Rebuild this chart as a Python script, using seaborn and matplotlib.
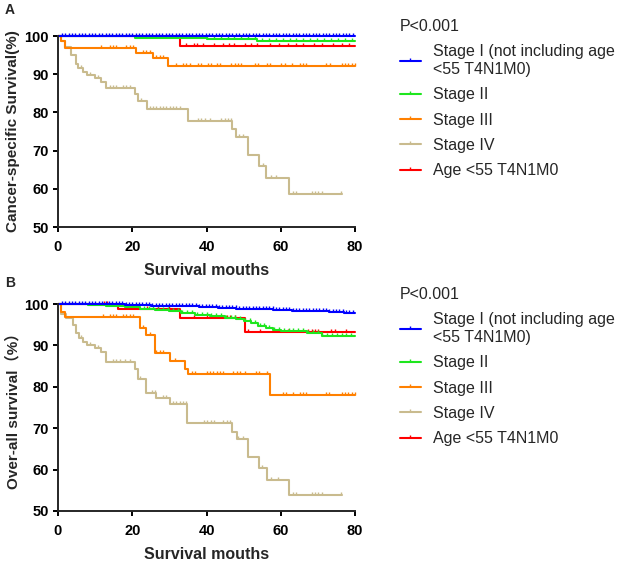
import numpy as np
import matplotlib
matplotlib.use("Agg")
import matplotlib.pyplot as plt
from matplotlib.path import Path
from matplotlib.lines import Line2D
import seaborn as sns

# groups, colours
labels = ["Stage I (not including age\n<55 T4N1M0)", "Stage II", "Stage III", "Stage IV", "Age <55 T4N1M0"]
colors = ["#0000ff", "#1ee61e", "#ff8000", "#c9bb8e", "#ff0000"]
p_text = "P<0.001"

# ---- A: cancer-specific survival (step times, survival %) ----
css_blue_t = [0]
css_blue_s = [100]
css_green_t = [0, 20.7, 40.0, 53.5]
css_green_s = [100, 99.6, 99.2, 98.7]
css_orange_t = [0, 0.9, 1.8, 21.1, 25.6, 29.7]
css_orange_s = [100, 98.6, 96.8, 95.6, 94.3, 92.1]
css_tan_t = [0, 0.9, 1.8, 3.6, 4.9, 5.5, 6.7, 7.9, 9.9, 11.7, 12.8, 20.7, 21.6, 23.9,
             35.0, 47.0, 47.9, 51.2, 54.1, 56.0, 62.2]
css_tan_s = [100, 98.6, 97.2, 95.0, 92.8, 91.6, 90.6, 89.8, 89.0, 88.0, 86.3, 84.8, 83.1, 81.0,
             77.8, 75.7, 73.5, 68.9, 66.0, 62.9, 58.7]
css_red_t = [0, 32.8]
css_red_s = [100, 97.5]
css_end = [80, 80, 80, 76.4, 80]

# ---- B: overall survival ----
os_blue_t = [0, 10, 18, 25, 32, 38, 43, 48, 53, 58, 63, 68, 73, 77]
os_blue_s = [100, 99.9, 99.8, 99.6, 99.5, 99.3, 99.1, 98.9, 98.7, 98.5, 98.3, 98.2, 98.0, 97.9]
os_green_t = [0, 3, 8, 13, 18, 22, 26, 30, 33, 37, 41, 45, 48, 50, 52, 54, 56, 58, 60, 67, 71]
os_green_s = [100, 99.9, 99.7, 99.4, 99.2, 98.9, 98.6, 98.2, 97.8, 97.4, 97.1, 96.7, 96.3,
              95.9, 95.3, 94.8, 94.3, 93.8, 93.5, 92.9, 92.3]
os_orange_t = [0, 0.9, 2.0, 22.0, 23.6, 26.1, 30.1, 34.1, 35.0, 57.1]
os_orange_s = [100, 98.0, 96.8, 94.1, 92.5, 88.1, 86.2, 84.4, 83.0, 78.0]
os_tan_t = [0, 0.9, 2.2, 4.0, 4.9, 5.6, 6.7, 7.9, 9.9, 11.7, 12.8, 20.7, 21.6, 23.8, 26.5,
            30.1, 34.8, 47.0, 48.1, 51.2, 54.2, 56.2, 62.3]
os_tan_s = [100, 97.7, 96.5, 94.9, 92.9, 91.7, 90.9, 90.1, 89.3, 88.5, 86.0, 84.4, 82.0, 78.4,
            77.2, 75.8, 71.3, 69.2, 67.3, 63.1, 60.4, 57.6, 53.8]
os_red_t = [0, 16.2, 32.8, 50.3]
os_red_s = [100, 98.7, 96.5, 93.2]
os_end = [80, 80, 80, 76.4, 80]

# ---- censoring marks (months) ----
blue_cens = [1.0, 2.0, 2.9, 3.8, 4.7, 5.6, 6.5, 7.4, 8.3, 9.2, 10.1, 11.0, 11.9, 12.8, 13.7,
             14.6, 15.5, 16.4, 17.3, 18.2, 19.1, 20.0, 20.9, 21.8, 22.7, 23.6, 24.5, 25.4,
             26.3, 27.2, 28.1, 29.0, 29.9, 30.8, 31.7, 32.6, 33.5, 34.4, 35.3, 36.2, 37.1,
             38.0, 38.9, 39.8, 40.7, 41.6, 42.5, 43.4, 44.3, 45.2, 46.1, 47.0, 47.9, 48.8,
             49.7, 50.6, 51.5, 52.4, 53.3, 54.2, 55.1, 56.0, 56.9, 57.8, 58.7, 59.6, 60.5,
             61.4, 62.3, 63.2, 64.1, 65.0, 65.9, 66.8, 67.7, 68.6, 69.5, 70.4, 71.3, 72.2,
             73.1, 74.0, 74.9, 75.8, 76.7, 77.6, 78.5, 79.4]
css_green_cens = [21.5, 23.4, 25.2, 27.1, 29.0, 30.8, 32.7, 34.5, 36.4, 38.2, 40.1, 42.0,
                  43.8, 45.7, 47.5, 49.4, 51.2, 53.1, 55.0, 56.8, 58.7, 60.5, 62.4, 64.2,
                  66.1, 68.0, 69.8, 71.7, 73.5, 75.4, 77.2, 79.1]
css_orange_cens = [11.7, 13.9, 14.8, 15.7, 18.4, 19.3, 20.2, 22.9, 23.8, 24.7, 26.5, 27.4,
                   28.3, 31.9, 33.7, 34.6, 35.5, 37.7, 38.6, 40.4, 41.3, 42.7, 43.6, 46.7,
                   47.6, 48.5, 49.4, 53.0, 53.9, 56.2, 57.1, 60.2, 61.1, 62.9, 65.1, 66.0,
                   66.9, 72.3, 73.2, 76.4, 77.3, 78.2, 79.1, 80.0]
css_tan_cens = [6.3, 8.5, 10.8, 13.9, 14.8, 15.7, 17.5, 18.4, 19.3, 22.4, 24.7, 25.6, 26.5,
                27.4, 28.3, 29.2, 30.1, 31.0, 31.9, 32.8, 37.7, 38.6, 39.5, 40.9, 44.0, 44.9,
                45.8, 46.5, 48.8, 49.9, 55.1, 57.3, 58.8, 63.3, 64.2, 68.3, 69.2, 70.1, 71.2,
                76.1]
css_red_cens = [34.5, 36.5, 37.5, 39.0, 42.0, 44.5, 46.0, 47.5, 50.5, 52.0, 53.5, 57.0, 59.5,
                62.0, 64.0, 66.0, 69.0, 71.0, 74.0, 76.5, 78.5]

os_green_cens = [14.0, 15.3, 16.6, 17.9, 19.2, 20.5, 21.8, 23.1, 24.4, 25.7, 27.0, 28.3, 29.6,
                 30.9, 32.2, 33.5, 34.8, 36.1, 37.4, 38.7, 40.0, 41.3, 42.6, 43.9, 45.2, 46.5,
                 47.8, 49.1, 50.4, 51.7, 53.0, 54.3, 55.6, 56.9, 58.2, 59.5, 60.8, 62.1, 63.4,
                 64.7, 66.0, 67.3, 68.6, 69.9, 71.2, 72.5, 73.8, 75.1, 76.4, 77.7, 79.0]
os_orange_cens = [12.1, 13.9, 14.8, 15.7, 17.5, 18.4, 19.3, 20.2, 22.9, 24.7, 26.5, 27.4,
                  28.3, 31.4, 36.1, 37.0, 40.0, 40.9, 41.8, 42.7, 43.6, 44.5, 47.2, 48.1,
                  49.0, 50.4, 53.3, 54.2, 56.3, 60.5, 61.4, 63.3, 65.1, 66.0, 66.9, 72.2,
                  73.1, 76.4, 77.3, 78.2, 79.1, 80.0]
os_tan_cens = [6.3, 8.5, 10.8, 14.8, 15.7, 16.6, 18.0, 19.3, 22.0, 25.2, 26.1, 28.3, 29.2,
               31.0, 31.9, 32.8, 33.7, 34.6, 39.3, 40.2, 41.1, 42.0, 44.5, 45.4, 46.3, 48.6,
               49.8, 55.0, 57.5, 59.3, 63.3, 64.2, 68.3, 69.2, 70.1, 71.2, 76.1]
os_red_cens = [12.3, 13.2, 19.0, 21.5, 24.0, 27.0, 30.0, 36.5, 40.0, 44.5, 45.4, 46.3, 47.6,
               51.2, 54.4, 62.0, 67.4, 68.3, 69.2, 70.1, 73.6, 74.5, 77.6]

sns.set_theme(style="ticks")
plt.rcParams["font.family"] = ["Liberation Sans", "Noto Sans CJK SC", "DejaVu Sans"]
plt.rcParams["axes.linewidth"] = 1.4
plt.rcParams["xtick.major.width"] = 1.4
plt.rcParams["ytick.major.width"] = 1.4
plt.rcParams["xtick.major.size"] = 3.6
plt.rcParams["ytick.major.size"] = 3.6

tick = Path([[0, 0], [0, 1]], [Path.MOVETO, Path.LINETO])


def draw_curve(ax, t, s, end, cens, color):
    x = list(t) + [end]
    y = list(s) + [s[-1]]
    sns.lineplot(x=x, y=y, ax=ax, color=color, lw=1.5, drawstyle="steps-post",
                 estimator=None, sort=False, legend=False, clip_on=False)
    idx = np.searchsorted(t, cens, side="right") - 1
    cy = np.array(s)[idx]
    ax.plot(cens, cy, ls="none", marker=tick, ms=5, mew=1.0, color=color, clip_on=False)


def style_axis(ax, ylabel):
    ax.set_xlim(0, 80)
    ax.set_ylim(50, 100)
    ax.set_xticks([0, 20, 40, 60, 80])
    ax.set_yticks([50, 60, 70, 80, 90, 100])
    ax.tick_params(labelsize=10.5, colors="black", pad=3)
    ax.tick_params(axis="x", pad=6)
    for lab in ax.get_xticklabels() + ax.get_yticklabels():
        lab.set_fontweight("bold")
    ax.set_xlabel("Survival mouths", fontsize=11.5, fontweight="bold", labelpad=6)
    ax.set_ylabel(ylabel, fontsize=11, fontweight="bold", labelpad=3)
    sns.despine(ax=ax)


def add_legend(ax, y_top):
    handles = [Line2D([], [], color=c, lw=1.5, marker=tick, ms=5, mew=1.0) for c in colors]
    leg = ax.legend(handles, labels, title=p_text, loc="upper left",
                    bbox_to_anchor=(400 / 625, y_top), bbox_transform=ax.figure.transFigure,
                    frameon=False, fontsize=11.5, title_fontsize=11.5, handlelength=1.3,
                    handletextpad=0.75, labelspacing=0.65, borderpad=0, borderaxespad=0,
                    alignment="left")
    return leg


fig = plt.figure(figsize=(6.25, 5.64), dpi=100)
ax1 = fig.add_axes([58 / 625, 337 / 564, 297 / 625, 191 / 564])
ax2 = fig.add_axes([58 / 625, 53 / 564, 297 / 625, 207 / 564])

css = [(css_blue_t, css_blue_s, blue_cens),
       (css_green_t, css_green_s, css_green_cens),
       (css_orange_t, css_orange_s, css_orange_cens),
       (css_tan_t, css_tan_s, css_tan_cens),
       (css_red_t, css_red_s, css_red_cens)]
oss = [(os_blue_t, os_blue_s, blue_cens),
       (os_green_t, os_green_s, os_green_cens),
       (os_orange_t, os_orange_s, os_orange_cens),
       (os_tan_t, os_tan_s, os_tan_cens),
       (os_red_t, os_red_s, os_red_cens)]

# draw order: tan, orange, red, green, blue on top
order = [3, 2, 4, 1, 0]
for i in order:
    t, s, c = css[i]
    draw_curve(ax1, t, s, css_end[i], c, colors[i])
    t, s, c = oss[i]
    draw_curve(ax2, t, s, os_end[i], c, colors[i])

style_axis(ax1, "Cancer-specific Survival(%)")
style_axis(ax2, "Over-all survival（%）")
add_legend(ax1, 1 - 19 / 564)
add_legend(ax2, 1 - 287 / 564)

fig.text(5 / 625, 1 - 10 / 564, "A", fontsize=10, fontweight="bold", va="center")
fig.text(5 / 625, 1 - 283 / 564, "B", fontsize=10, fontweight="bold", va="center")

fig.savefig("out.png", dpi=100)
